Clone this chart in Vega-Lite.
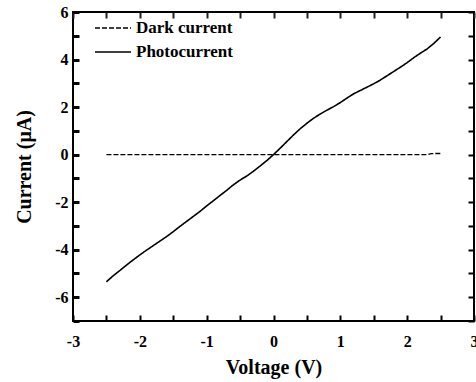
{
  "$schema": "https://vega.github.io/schema/vega-lite/v6.json",
  "autosize": "none",
  "width": 401,
  "height": 309,
  "padding": {"left": 73, "top": 12, "right": 2, "bottom": 61},
  "background": "white",
  "config": {
    "view": {"stroke": "black", "strokeWidth": 2},
    "font": "Liberation Serif",
    "axis": {
      "domain": false,
      "grid": false,
      "labelColor": "black",
      "labelFont": "Liberation Serif",
      "labelFontWeight": "bold",
      "labelFontSize": 16,
      "titleFont": "Liberation Serif",
      "titleFontWeight": "bold",
      "titleFontSize": 20,
      "titleColor": "black",
      "labelOverlap": false,
      "labelFlush": false
    }
  },
  "data": {"values": [
    {"V": -2.5, "I": -5.35, "series": "Photocurrent"},
    {"V": -2.4, "I": -5.10, "series": "Photocurrent"},
    {"V": -2.3, "I": -4.88, "series": "Photocurrent"},
    {"V": -2.2, "I": -4.65, "series": "Photocurrent"},
    {"V": -2.1, "I": -4.43, "series": "Photocurrent"},
    {"V": -2.0, "I": -4.22, "series": "Photocurrent"},
    {"V": -1.9, "I": -4.02, "series": "Photocurrent"},
    {"V": -1.8, "I": -3.83, "series": "Photocurrent"},
    {"V": -1.7, "I": -3.64, "series": "Photocurrent"},
    {"V": -1.6, "I": -3.45, "series": "Photocurrent"},
    {"V": -1.5, "I": -3.24, "series": "Photocurrent"},
    {"V": -1.4, "I": -3.02, "series": "Photocurrent"},
    {"V": -1.3, "I": -2.81, "series": "Photocurrent"},
    {"V": -1.2, "I": -2.60, "series": "Photocurrent"},
    {"V": -1.1, "I": -2.39, "series": "Photocurrent"},
    {"V": -1.0, "I": -2.16, "series": "Photocurrent"},
    {"V": -0.9, "I": -1.94, "series": "Photocurrent"},
    {"V": -0.8, "I": -1.72, "series": "Photocurrent"},
    {"V": -0.7, "I": -1.50, "series": "Photocurrent"},
    {"V": -0.6, "I": -1.27, "series": "Photocurrent"},
    {"V": -0.5, "I": -1.07, "series": "Photocurrent"},
    {"V": -0.4, "I": -0.90, "series": "Photocurrent"},
    {"V": -0.3, "I": -0.70, "series": "Photocurrent"},
    {"V": -0.2, "I": -0.48, "series": "Photocurrent"},
    {"V": -0.1, "I": -0.25, "series": "Photocurrent"},
    {"V": 0.0, "I": 0.0, "series": "Photocurrent"},
    {"V": 0.1, "I": 0.27, "series": "Photocurrent"},
    {"V": 0.2, "I": 0.55, "series": "Photocurrent"},
    {"V": 0.3, "I": 0.83, "series": "Photocurrent"},
    {"V": 0.4, "I": 1.09, "series": "Photocurrent"},
    {"V": 0.5, "I": 1.32, "series": "Photocurrent"},
    {"V": 0.6, "I": 1.53, "series": "Photocurrent"},
    {"V": 0.7, "I": 1.71, "series": "Photocurrent"},
    {"V": 0.8, "I": 1.87, "series": "Photocurrent"},
    {"V": 0.9, "I": 2.02, "series": "Photocurrent"},
    {"V": 1.0, "I": 2.19, "series": "Photocurrent"},
    {"V": 1.1, "I": 2.38, "series": "Photocurrent"},
    {"V": 1.2, "I": 2.56, "series": "Photocurrent"},
    {"V": 1.3, "I": 2.70, "series": "Photocurrent"},
    {"V": 1.4, "I": 2.84, "series": "Photocurrent"},
    {"V": 1.5, "I": 2.98, "series": "Photocurrent"},
    {"V": 1.6, "I": 3.14, "series": "Photocurrent"},
    {"V": 1.7, "I": 3.32, "series": "Photocurrent"},
    {"V": 1.8, "I": 3.50, "series": "Photocurrent"},
    {"V": 1.9, "I": 3.68, "series": "Photocurrent"},
    {"V": 2.0, "I": 3.87, "series": "Photocurrent"},
    {"V": 2.1, "I": 4.08, "series": "Photocurrent"},
    {"V": 2.2, "I": 4.27, "series": "Photocurrent"},
    {"V": 2.3, "I": 4.45, "series": "Photocurrent"},
    {"V": 2.4, "I": 4.68, "series": "Photocurrent"},
    {"V": 2.5, "I": 4.95, "series": "Photocurrent"},
    {"V": -2.5, "I": 0.0, "series": "Dark current"},
    {"V": 0.0, "I": 0.0, "series": "Dark current"},
    {"V": 2.3, "I": 0.0, "series": "Dark current"},
    {"V": 2.36, "I": 0.04, "series": "Dark current"},
    {"V": 2.5, "I": 0.05, "series": "Dark current"}
  ]},
  "encoding": {
    "strokeDash": {
      "field": "series",
      "type": "nominal",
      "scale": {"domain": ["Dark current", "Photocurrent"], "range": [[5, 2], [1, 0]]},
      "legend": {
        "title": null,
        "orient": "none",
        "legendX": 21,
        "legendY": 5,
        "padding": 0,
        "symbolType": "stroke",
        "symbolSize": 1296,
        "symbolStrokeColor": "black",
        "symbolStrokeWidth": 1.6,
        "labelFont": "Liberation Serif",
        "labelFontWeight": "bold",
        "labelFontSize": 17,
        "labelColor": "black",
        "labelOffset": 4,
        "clipHeight": 22,
        "rowPadding": 2
      }
    }
  },
  "resolve": {"axis": {"x": "independent", "y": "independent"}},
  "layer": [
    {
      "transform": [{"filter": "datum.series === 'Photocurrent'"}],
      "mark": {"type": "line", "color": "black", "strokeWidth": 1.6},
      "encoding": {
        "x": {
          "field": "V", "type": "quantitative",
          "scale": {"domain": [-3, 3], "nice": false},
          "axis": {
            "orient": "bottom",
            "title": "Voltage (V)",
            "values": [-3, -2.5, -2, -1.5, -1, -0.5, 0, 0.5, 1, 1.5, 2, 2.5, 3],
            "labelExpr": "datum.value % 1 === 0 ? '' + datum.value : ''",
            "ticks": true,
            "tickColor": "#000",
            "tickWidth": 2,
            "tickSize": -6,
            "labelPadding": 18,
            "titlePadding": 8
          }
        },
        "y": {
          "field": "I", "type": "quantitative",
          "scale": {"domain": [-7, 6], "nice": false},
          "axis": {
            "orient": "left",
            "title": "Current (μA)",
            "values": [-7, -6, -5, -4, -3, -2, -1, 0, 1, 2, 3, 4, 5, 6],
            "labelExpr": "datum.value % 2 === 0 ? '' + datum.value : ''",
            "ticks": true,
            "tickColor": "black",
            "tickWidth": 3,
            "tickSize": -6,
            "labelPadding": 11,
            "titlePadding": 20
          }
        }
      }
    },
    {
      "transform": [{"filter": "datum.series === 'Dark current'"}],
      "mark": {"type": "line", "color": "black", "strokeWidth": 1.4},
      "encoding": {
        "x": {
          "field": "V", "type": "quantitative",
          "axis": {
            "orient": "top",
            "title": null,
            "labels": false,
            "values": [-3, -2.5, -2, -1.5, -1, -0.5, 0, 0.5, 1, 1.5, 2, 2.5, 3],
            "ticks": true,
            "tickColor": "#222222",
            "tickWidth": 2,
            "tickSize": -6
          }
        },
        "y": {
          "field": "I", "type": "quantitative",
          "axis": {
            "orient": "right",
            "title": null,
            "labels": false,
            "values": [-7, -6, -5, -4, -3, -2, -1, 0, 1, 2, 3, 4, 5, 6],
            "ticks": true,
            "tickColor": "black",
            "tickWidth": 2,
            "offset": -6,
            "tickSize": 6
          }
        }
      }
    }
  ]
}
